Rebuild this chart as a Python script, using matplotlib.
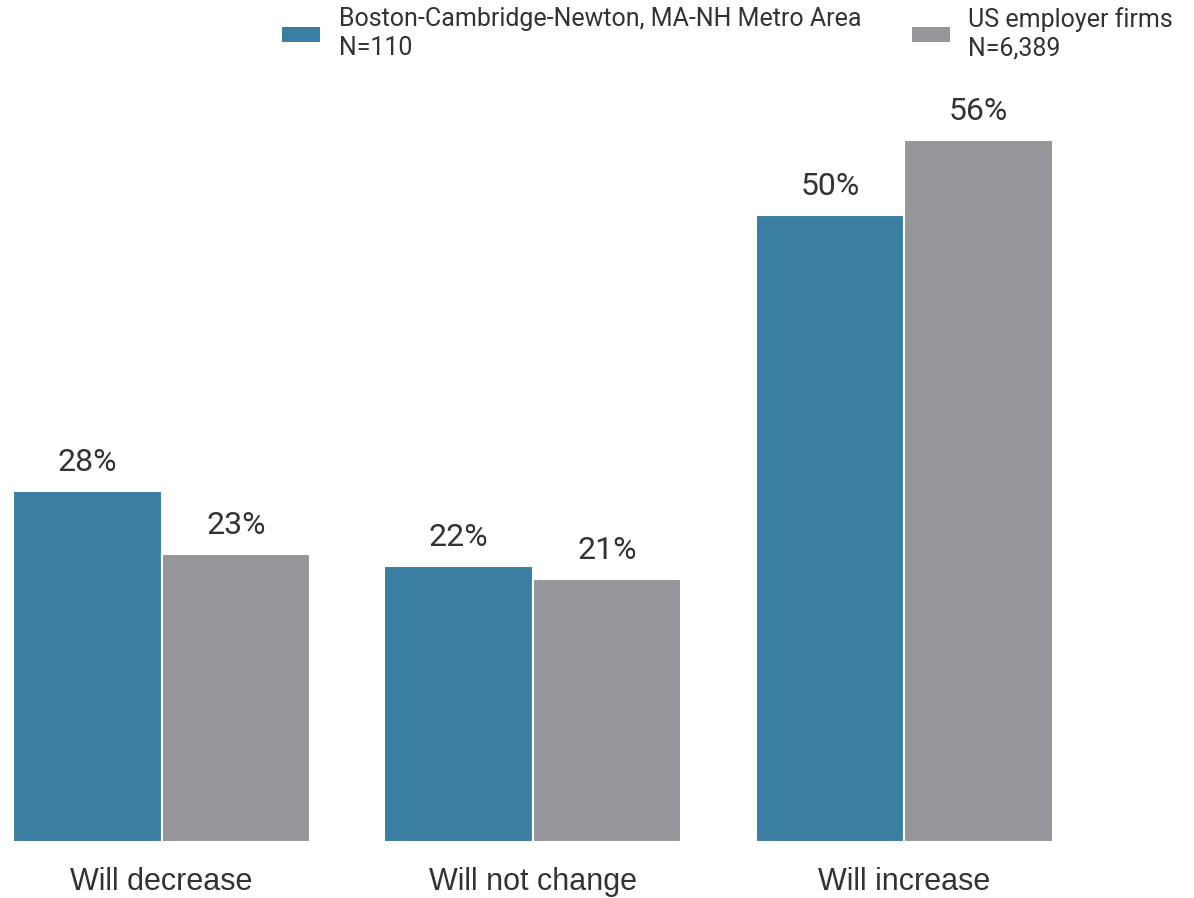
import numpy as np
import matplotlib
matplotlib.use("Agg")
import matplotlib.pyplot as plt
from matplotlib.patches import Patch

categories = ["Will decrease", "Will not change", "Will increase"]
boston = [28, 22, 50]
us_firms = [23, 21, 56]
series_names = ["Boston-Cambridge-Newton, MA-NH Metro Area\nN=110",
                "US employer firms\nN=6,389"]

blue = "#3a7ea1"
gray = "#959699"
txt = "#333333"

plt.rcParams['font.family'] = ['Roboto', 'DejaVu Sans']

fig = plt.figure(figsize=(11.94, 8.98), dpi=100)
ax = fig.add_axes([13 / 1194, 56 / 898, 1 - 13 / 1194, 842 / 898])

x = np.arange(len(categories))
w = 0.4
b1 = ax.bar(x - w / 2, boston, w, color=blue, edgecolor="white", linewidth=1.5)
b2 = ax.bar(x + w / 2, us_firms, w, color=gray, edgecolor="white", linewidth=1.5)

for bars, vals in ((b1, boston), (b2, us_firms)):
    for rect, v in zip(bars, vals):
        ax.annotate(f"{v}%", (rect.get_x() + rect.get_width() / 2, rect.get_height()),
                    xytext=(0, 10), textcoords="offset points",
                    ha="center", va="bottom", fontsize=23, color=txt)

ax.set_xlim(-0.4, 2.78)
ax.set_ylim(0, 67.15)
ax.set_xticks(x)
ax.set_xticklabels(categories, fontsize=22, color=txt, family=['Liberation Sans', 'DejaVu Sans'])
ax.tick_params(axis="x", length=0, pad=18)
ax.set_yticks([])
for s in ax.spines.values():
    s.set_visible(False)

# legend across the top, two columns
handles = [Patch(facecolor=blue), Patch(facecolor=gray)]
leg = fig.legend(handles, series_names, loc="upper left", bbox_to_anchor=(272 / 1194, 1.0 + 3 / 898),
                 ncol=2, frameon=False, fontsize=18, handlelength=1.52, handleheight=0.5,
                 handletextpad=0.76, columnspacing=2.0, borderaxespad=0.0, labelcolor=txt)
for t in leg.get_texts():
    t.set_linespacing(1.25)

fig.savefig("out.png", dpi=100)
